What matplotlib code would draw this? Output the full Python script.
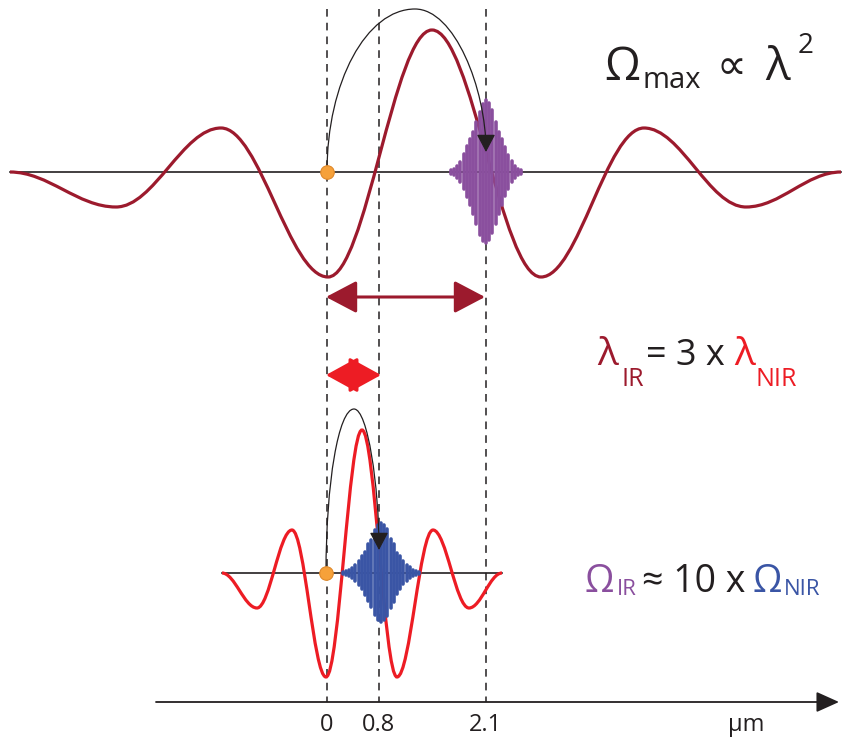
import numpy as np
import matplotlib
matplotlib.use("Agg")
import matplotlib.pyplot as plt
from matplotlib.path import Path
from matplotlib.patches import PathPatch, FancyArrowPatch

plt.rcParams['font.family'] = ['Open Sans', 'DejaVu Sans']

# colours
DARKRED = '#9c1a2d'
RED = '#ed1c24'
PURPLE = '#8a4f9e'
BLUE = '#3a55a5'
INK = '#231f20'
ORANGE = '#f6a13a'

# canvas units (px), y grows downward
base_ir = 172
base_nir = 573
axis_y = 702

# extrema of the IR (long wavelength) field
ir_x = [10, 116, 221, 328, 432, 541, 644, 746, 841]
ir_y = [172, 207, 128, 277, 30, 277, 128, 207, 172]

# extrema of the NIR field
nir_x = [222, 257, 292, 326, 362, 397, 433, 469, 502]
nir_y = [573, 608, 530, 677, 430, 677, 530, 608, 573]

# harmonic bursts: spike heights above / below the line
purple_top = [2, 3, 6, 10, 18, 26, 33, 40, 50, 60, 68, 72, 69, 62, 50, 40, 33, 25, 17, 11, 6, 3, 2]
purple_bot = [2, 3, 6, 10, 17, 25, 33, 42, 52, 63, 69, 71, 68, 61, 52, 42, 33, 24, 17, 10, 6, 3, 2]
blue_top = [1, 2, 3, 5, 8, 12, 17, 21, 29, 33, 43, 48, 50, 48, 44, 34, 29, 20, 17, 12, 8, 6, 3, 2, 1]
blue_bot = [1, 2, 3, 5, 8, 12, 16, 22, 28, 34, 42, 47, 49, 47, 43, 35, 29, 21, 16, 11, 8, 5, 3, 2, 1]

# position axis
tick_pos = [327, 379, 486]
tick_lab = ['0', '0.8', '2.1']


def wave_path(xs, ys, k=0.363):
    # smooth curve through the extrema, horizontal tangent at each one
    verts = [(xs[0], ys[0])]
    codes = [Path.MOVETO]
    for i in range(len(xs) - 1):
        dx = xs[i + 1] - xs[i]
        verts += [(xs[i] + k * dx, ys[i]), (xs[i + 1] - k * dx, ys[i + 1]), (xs[i + 1], ys[i + 1])]
        codes += [Path.CURVE4] * 3
    return Path(verts, codes)


def arc_path(x0, y0, xtop, ytop, x1, y1, k=0.552):
    # two quarter ellipses: birth point -> apex -> return point
    verts = [(x0, y0),
             (x0, y0 - k * (y0 - ytop)), (xtop - k * (xtop - x0), ytop), (xtop, ytop),
             (xtop + k * (x1 - xtop), ytop), (x1, ytop + k * (y1 - ytop)), (x1, y1)]
    codes = [Path.MOVETO] + [Path.CURVE4] * 6
    return Path(verts, codes)


def burst(ax, xc, y0, top, bot, step, color):
    n = len(top)
    xs = [xc + (i - n // 2) * step for i in range(n)]
    lc = ax.vlines(xs, [y0 - t for t in top], [y0 + b for b in bot], colors=color, lw=2.6, zorder=4)
    lc.set_capstyle('round')


fig = plt.figure(figsize=(8.45, 7.38), dpi=100)
ax = fig.add_axes([0, 0, 1, 1])
ax.set_xlim(0, 845)
ax.set_ylim(738, 0)
ax.axis('off')

# guide lines
ax.vlines(tick_pos, 9, axis_y, colors=INK, lw=1.1, linestyles=(0, (5, 4)), zorder=1)

# field baselines
ax.plot([ir_x[0], ir_x[-1]], [base_ir, base_ir], color=INK, lw=1.2, zorder=2)
ax.plot([nir_x[0], nir_x[-1]], [base_nir, base_nir], color=INK, lw=1.2, zorder=2)

# driving fields
ax.add_patch(PathPatch(wave_path(ir_x, ir_y), fill=False, ec=DARKRED, lw=2.3, zorder=3))
ax.add_patch(PathPatch(wave_path(nir_x, nir_y), fill=False, ec=RED, lw=2.3, zorder=3))

# emitted bursts
burst(ax, 486, base_ir, purple_top, purple_bot, 3.2, PURPLE)
burst(ax, 381, base_nir, blue_top, blue_bot, 3.2, BLUE)

# electron trajectories
arr = dict(arrowstyle='-|>,head_length=11,head_width=5.8', mutation_scale=1,
           color=INK, lw=0.9, shrinkA=0, shrinkB=0, zorder=5)
ax.add_patch(FancyArrowPatch(path=arc_path(327, base_ir, 415, 9, 486, 152), **arr))
ax.add_patch(FancyArrowPatch(path=arc_path(326, base_nir, 354, 409, 379, 550), **arr))

# birth points
ax.scatter([327, 326], [base_ir, base_nir], s=95, c=ORANGE, edgecolors='#e0892a', linewidths=0.8, zorder=6)

# wavelength arrows
ax.add_patch(FancyArrowPatch((326, 297), (485, 297), arrowstyle='<|-|>,head_length=19,head_width=10',
                             mutation_scale=1, color=DARKRED, lw=2.2, shrinkA=0, shrinkB=0, zorder=5))
ax.add_patch(FancyArrowPatch((326, 375), (381, 375), arrowstyle='<|-|>,head_length=20,head_width=11',
                             mutation_scale=1, color=RED, lw=2.2, shrinkA=0, shrinkB=0, zorder=5))

# position axis with arrow
ax.annotate('', xy=(839, axis_y), xytext=(156, axis_y),
            arrowprops=dict(arrowstyle='-|>,head_length=1.0,head_width=0.45', mutation_scale=14,
                            color=INK, lw=1.3, shrinkA=0, shrinkB=0))
for xp, lab in zip(tick_pos, tick_lab):
    ax.text(xp, 731, lab, fontsize=17, color=INK, ha='center', va='baseline')
ax.text(728, 731, 'µm', fontsize=17, color=INK, va='baseline')

# formulas
ax.text(604, 80, 'Ω', fontsize=33, color=INK, va='baseline')
ax.text(643, 88, 'max', fontsize=21, color=INK, va='baseline')
ax.text(717, 79, '∝', fontsize=30, color=INK, va='baseline')
ax.text(765, 80, 'λ', fontsize=33, color=INK, va='baseline')
ax.text(798, 53, '2', fontsize=20, color=INK, va='baseline')

ax.text(597, 365, 'λ', fontsize=28, color=DARKRED, va='baseline')
ax.text(622, 386, 'IR', fontsize=18, color=DARKRED, va='baseline')
ax.text(646, 365, '= 3 x', fontsize=26, color=INK, va='baseline')
ax.text(734, 365, 'λ', fontsize=28, color=RED, va='baseline')
ax.text(756, 386, 'NIR', fontsize=18, color=RED, va='baseline')

ax.text(585, 592, 'Ω', fontsize=27, color=PURPLE, va='baseline')
ax.text(617, 595, 'IR', fontsize=16, color=PURPLE, va='baseline')
ax.text(642, 592, '≈ 10 x', fontsize=27, color=INK, va='baseline')
ax.text(753, 592, 'Ω', fontsize=27, color=BLUE, va='baseline')
ax.text(784, 595, 'NIR', fontsize=16, color=BLUE, va='baseline')

fig.savefig('out.png', dpi=100)
